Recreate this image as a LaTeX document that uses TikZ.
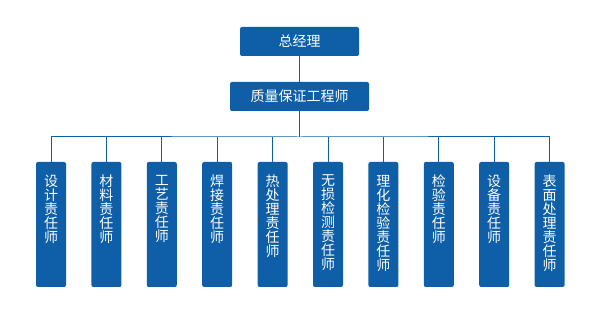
\documentclass[tikz,border=0pt]{standalone}
\usepackage{fontspec}
\setmainfont{Noto Sans CJK SC}
\usepackage{xcolor}
\usetikzlibrary{positioning}
\definecolor{qblue}{RGB}{14,94,168}

\begin{document}
\begin{tikzpicture}[
  x=1pt, y=1pt,
  font=\fontsize{14pt}{14pt}\selectfont,
  head/.style={fill=qblue, rounded corners=2pt, text=white,
               minimum height=29pt, inner sep=0pt},
  duty/.style={fill=qblue, rounded corners=2pt, minimum width=30pt,
               minimum height=125pt, inner sep=0pt},
  vtext/.style={text=white, align=center, inner sep=0pt},
  link/.style={draw=qblue, line width=1pt},
]
\useasboundingbox (0,0) rectangle (600,-320);
\node[head, minimum width=119pt] (mgr) at (299.5,-41.5) {总经理};
\node[head, minimum width=139pt] (qe) at (299.5,-96.5) {质量保证工程师};
\coordinate (bus) at (299.5,-137);
\node[duty] (d1)  at ( 51.0,-224.5) {};
\node[duty] (d2)  at (106.4,-224.5) {};
\node[duty] (d3)  at (161.8,-224.5) {};
\node[duty] (d4)  at (217.2,-224.5) {};
\node[duty] (d5)  at (272.6,-224.5) {};
\node[duty] (d6)  at (328.0,-224.5) {};
\node[duty] (d7)  at (383.4,-224.5) {};
\node[duty] (d8)  at (438.8,-224.5) {};
\node[duty] (d9)  at (494.2,-224.5) {};
\node[duty] (d10) at (549.6,-224.5) {};
\node[vtext, below=13pt of d1.north]  (t1)  {设\\计\\责\\任\\师};
\node[vtext, below=13pt of d2.north]  (t2)  {材\\料\\责\\任\\师};
\node[vtext, below=13pt of d3.north]  (t3)  {工\\艺\\责\\任\\师};
\node[vtext, below=13pt of d4.north]  (t4)  {焊\\接\\责\\任\\师};
\node[vtext, below=13pt of d5.north]  (t5)  {热\\处\\理\\责\\任\\师};
\node[vtext, below=13pt of d6.north]  (t6)  {无\\损\\检\\测\\责\\任\\师};
\node[vtext, below=13pt of d7.north]  (t7)  {理\\化\\检\\验\\责\\任\\师};
\node[vtext, below=13pt of d8.north]  (t8)  {检\\验\\责\\任\\师};
\node[vtext, below=13pt of d9.north]  (t9)  {设\\备\\责\\任\\师};
\node[vtext, below=13pt of d10.north] (t10) {表\\面\\处\\理\\责\\任\\师};
\draw[link] (mgr.south) -- (qe.north);
\draw[link] (qe.south) -- (bus);
\draw[link] (d1.north) |- (bus) -| (d10.north);
\draw[link] (d2.north) -- (d2.north |- bus);
\draw[link] (d3.north) -- (d3.north |- bus);
\draw[link] (d4.north) -- (d4.north |- bus);
\draw[link] (d5.north) -- (d5.north |- bus);
\draw[link] (d6.north) -- (d6.north |- bus);
\draw[link] (d7.north) -- (d7.north |- bus);
\draw[link] (d8.north) -- (d8.north |- bus);
\draw[link] (d9.north) -- (d9.north |- bus);
\end{tikzpicture}
\end{document}
